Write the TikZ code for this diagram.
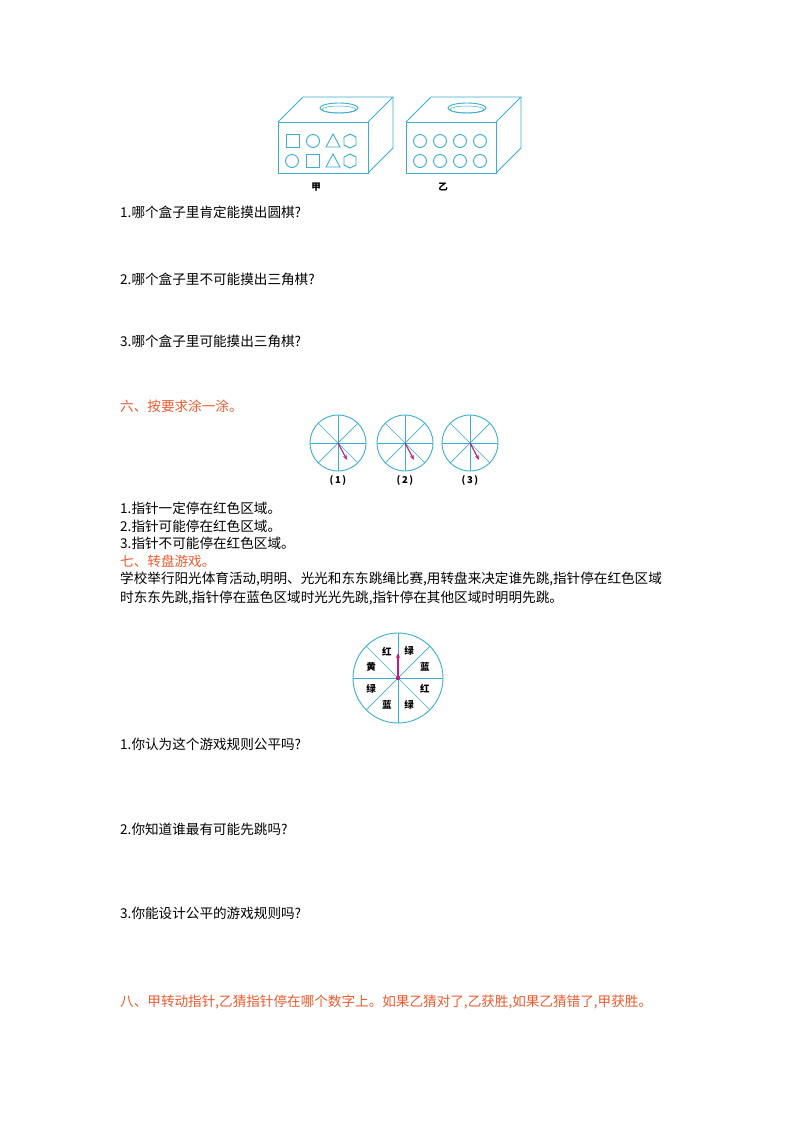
\documentclass[tikz,border=0pt]{standalone}
\usepackage{fontspec}
\setmainfont{Noto Sans CJK SC}
\usetikzlibrary{arrows.meta,calc}
\definecolor{cy}{HTML}{3AAFCF}
\definecolor{rd}{HTML}{EE5A2E}
\definecolor{mg}{HTML}{C41A7E}
\begin{document}
\begin{tikzpicture}[x=1pt,y=-1pt,
  txt/.style={anchor=west,inner sep=0,font=\fontsize{13.6}{15}\selectfont},
  rtxt/.style={txt,text=rd},
  sm/.style={inner sep=0,font=\fontsize{9.5}{10}\selectfont\bfseries},
  ln/.style={cy,line width=0.9pt},
  ptr/.style={mg,line width=1.1pt,-{Stealth[length=5pt,width=4pt]}}]
\useasboundingbox[fill=white] (0,0) rectangle (800,1132);
% boxes
\foreach \ox/\nm in {0/a,128/b}{
  \begin{scope}[xshift=\ox]
  \draw[ln,line join=round] (278,122) rectangle (368,173);
  \draw[ln,line join=round] (278,122) -- (303,97) -- (393,97) -- (368,122);
  \draw[ln,line join=round] (393,97) -- (393,148) -- (368,173);
  \draw[ln] (339,108) ellipse (19 and 5);
  \draw[ln,line width=0.5pt] (339,109.5) ellipse (17 and 3.5);
  \end{scope}}
% box 1 shapes
\draw[ln] (286,134) rectangle (299,147);
\draw[ln] (313,141) circle (6.5);
\draw[ln] (333,134) -- (340,147) -- (326,147) -- cycle;
\draw[ln] (350,134) -- (356,137) -- (356,145) -- (350,148) -- (344,145) -- (344,137) -- cycle;
\draw[ln] (292,161) circle (6.5);
\draw[ln] (306,154) rectangle (319,167);
\draw[ln] (333,154) -- (340,167) -- (326,167) -- cycle;
\draw[ln] (350,154) -- (356,157) -- (356,165) -- (350,168) -- (344,165) -- (344,157) -- cycle;
\foreach \x in {420,440,460,480}{\draw[ln] (\x,141) circle (6.5); \draw[ln] (\x,161) circle (6.5);}
\node[sm] (ja) at (316,187) {甲};
\node[sm] (yi) at (443,187) {乙};
% texts
\node[txt] (q1) at (120,212) {1.哪个盒子里肯定能摸出圆棋?};
\node[txt] (q2) at (120,279) {2.哪个盒子里不可能摸出三角棋?};
\node[txt] (q3) at (120,341) {3.哪个盒子里可能摸出三角棋?};
\node[rtxt] (s6) at (120,406) {六、按要求涂一涂。};
% small spinners
\foreach \cx/\lab in {338/1,405/2,470/3}{
  \draw[ln] (\cx,443) circle (28);
  \foreach \a in {0,45,90,135}{\draw[ln,line width=0.7pt] ($(\cx,443)+(\a:28)$) -- ($(\cx,443)+(\a+180:28)$);}
  \coordinate (c\lab) at (\cx,443);
  \coordinate (p\lab) at ($(\cx,443)+(62:19)$);
  \draw[ptr] (c\lab) -- (p\lab);
  \node[sm] (l\lab) at (\cx,480) {(\,\lab\,)};
}
\node[txt] (t1) at (120,508) {1.指针一定停在红色区域。};
\node[txt] (t2) at (120,526) {2.指针可能停在红色区域。};
\node[txt] (t3) at (120,543) {3.指针不可能停在红色区域。};
\node[rtxt] (s7) at (120,561) {七、转盘游戏。};
\node[txt] (p1) at (120,579) {学校举行阳光体育活动,明明、光光和东东跳绳比赛,用转盘来决定谁先跳,指针停在红色区域};
\node[txt] (p2) at (120,598) {时东东先跳,指针停在蓝色区域时光光先跳,指针停在其他区域时明明先跳。};
% big spinner
\coordinate (bc) at (398,678);
\draw[ln] (bc) circle (45);
\foreach \a in {0,45,90,135}{\draw[ln,line width=0.7pt] ($(bc)+(\a:45)$) -- ($(bc)+(\a+180:45)$);}
\foreach \a/\t in {67.5/绿,22.5/蓝,-22.5/红,-67.5/绿,-112.5/蓝,-157.5/绿,157.5/黄,112.5/红}{
  \node[sm] at ($(bc)+(-\a:29)$) {\t};}
\coordinate (bt) at (398,653);
\draw[ptr] (bc) -- (bt);
\fill[mg] (bc) circle (2.2);
\node[txt] (u1) at (120,744) {1.你认为这个游戏规则公平吗?};
\node[txt] (u2) at (120,829) {2.你知道谁最有可能先跳吗?};
\node[txt] (u3) at (120,913) {3.你能设计公平的游戏规则吗?};
\node[rtxt] (s8) at (120,1002) {八、甲转动指针,乙猜指针停在哪个数字上。如果乙猜对了,乙获胜,如果乙猜错了,甲获胜。};
\end{tikzpicture}
\end{document}
